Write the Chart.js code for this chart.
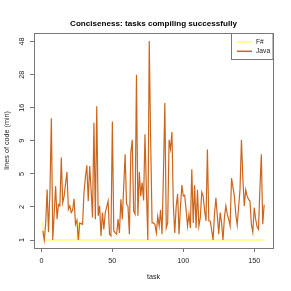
<!DOCTYPE html>
<html><head><meta charset="utf-8">
<script src="https://cdn.jsdelivr.net/npm/chart.js@4.4.0/dist/chart.umd.min.js"></script>
<style>html,body{margin:0;padding:0;background:#fff;}canvas{display:block}</style>
</head><body>
<canvas id="c" width="291" height="291"></canvas>
<script>
const chartTitle = "Conciseness: tasks compiling successfully";
const xTitle = "task";
const yTitle = "lines of code (min)";
const xTickValues = [0, 50, 100, 150];
const yTickLabels = [1, 2, 5, 9, 16, 28, 48];
const seriesNames = ["F#", "Java"];
const javaLoc = [
1.21,1.0,1.41,3.25,1.18,3.16,13.3,1.0,1.74,3.56,
1.55,2.15,2.06,6.7,2.25,2.7,3.8,5.18,1.9,2.06,
1.78,1.87,2.51,1.39,1.52,1.0,1.43,1.41,1.39,2.97,
4.56,5.83,2.36,5.76,3.28,1.6,12.3,1.55,16.4,1.66,
2.06,1.09,1.78,1.25,1.78,2.0,2.36,1.13,1.09,12.6,
1.21,1.16,1.13,1.55,1.16,2.47,1.55,3.47,7.1,2.15,
2.06,1.13,7.3,9.16,1.84,1.72,28,1.66,5.18,2.7,
3.94,2.4,10.1,3.16,1.0,48.5,9,1.43,1.43,1.39,
1.16,1.64,1.34,1.88,1.13,5,17.3,1.29,1.43,9.16,
7.8,10.5,2.06,1.16,2.06,2.86,1.13,2.0,3.66,2.7,
2.76,1.87,1.34,1.72,1.29,5.43,1.43,3.66,1.29,3.22,
1.34,1.6,3.02,2.7,1.87,1.49,7.7,1.49,1.49,1.23,
1.0,1.74,2.58,1.66,1.13,1.78,1.43,1.0,1.62,2.06,
1.72,1.55,1.34,4.44,3.47,2.7,1.72,1.37,2.0,3.28,
9.16,4.32,2.06,3.22,2.7,2.47,2.36,1.39,1.18,1.97,
1.55,1.32,1.25,3.28,7.1,1.39,2.13];
const fsharpLoc = [
1.45,1,1,1,1,1,1,1,1,1,
1,1,1,1,1,1,1,1,1,1,
1,1,1,1,1,1.45,1,1,1,1,
1,1,1,1,1,1,1,1,1,1,
1,1,1,1,1,1,1,1,1,1,
1,1,1,1,1,1,1,1,1,1,
1,1,1,1,1,1,1,1,1,1,
1,1,1,1,1,1,1,1,1,1,
1,1,1,1,1,1,1,1,1,1,
1,1,1,1,1,1,1,1,1,1,
1,1,1,1,1,1,1,1,1,1,
1,1,1,1,1,1,1,1,1,1,
1,1,1,1,1,1,1,1,1,1,
1,1,1,1,1,1,1,1,1,1,
1,1,1,1,1,1,1,1,1,1,
1,1,1,1,1,1,1];

// axis transform: evenly spaced tick labels, log-interpolated between them
function toPos(v){
  const L = yTickLabels;
  let k = 0;
  while (k < L.length - 2 && v > L[k+1]) k++;
  return k + Math.log(v / L[k]) / Math.log(L[k+1] / L[k]);
}
const tasks = javaLoc.map((_, i) => i + 1);
const allPos = javaLoc.concat(fsharpLoc).map(toPos);
const yMinP = Math.min(...allPos), yMaxP = Math.max(...allPos);
const yPad = 0.04 * (yMaxP - yMinP);
const xPad = 0.04 * (tasks[tasks.length-1] - tasks[0]);
const FONT = "'Liberation Sans', Arial, sans-serif";
const FRAME = '#777';

const boxPlugin = {
  id: 'rbox',
  afterDraw(chart){
    const {ctx, chartArea: a} = chart;
    ctx.save();
    ctx.strokeStyle = FRAME; ctx.lineWidth = 1;
    ctx.strokeRect(Math.round(a.left)+0.5, Math.round(a.top)+0.5, Math.round(a.right-a.left), Math.round(a.bottom-a.top));
    // title
    ctx.fillStyle = '#000';
    ctx.font = "bold 8.1px " + FONT;
    ctx.textAlign = 'center'; ctx.textBaseline = 'middle';
    ctx.fillText(chartTitle, (a.left + a.right)/2, 24);
    // legend
    const lx = 231.5, ly = 33.5, lw = a.right - 231.5, lh = 26;
    ctx.fillStyle = '#fff';
    ctx.fillRect(lx, ly, lw, lh);
    ctx.strokeStyle = FRAME;
    ctx.strokeRect(lx, ly, lw, lh);
    ctx.font = "6.7px " + FONT;
    ctx.textAlign = 'left';
    chart.data.datasets.forEach((ds, i) => {
      const yy = 42 + i * 9.3;
      ctx.strokeStyle = ds.borderColor; ctx.lineWidth = 1.5;
      ctx.beginPath(); ctx.moveTo(237, yy); ctx.lineTo(252, yy); ctx.stroke();
      ctx.fillStyle = '#222';
      ctx.fillText(ds.label, 256, yy);
    });
    ctx.restore();
  }
};

new Chart(document.getElementById('c'), {
  type: 'line',
  data: {
    datasets: [
      { label: seriesNames[0], data: tasks.map((t, i) => ({x: t, y: toPos(fsharpLoc[i])})),
        borderColor: '#ffff70', borderWidth: 1.5, pointRadius: 0, order: 1 },
      { label: seriesNames[1], data: tasks.map((t, i) => ({x: t, y: toPos(javaLoc[i])})),
        borderColor: '#cd661d', borderWidth: 1.2, pointRadius: 0, order: 0 }
    ]
  },
  options: {
    responsive: false, animation: false, devicePixelRatio: 1,
    layout: { padding: { top: 33, right: 18, left: 0, bottom: 0 } },
    plugins: { legend: { display: false }, tooltip: { enabled: false }, title: { display: false } },
    elements: { line: { tension: 0 } },
    scales: {
      x: {
        type: 'linear',
        min: tasks[0] - xPad, max: tasks[tasks.length-1] + xPad,
        afterBuildTicks: s => { s.ticks = xTickValues.map(v => ({value: v})); },
        afterFit: s => { s.height = 43; },
        grid: { drawOnChartArea: false, drawTicks: true, tickLength: 4, color: FRAME },
        border: { display: false },
        ticks: { autoSkip: false, maxRotation: 0, padding: 5, color: '#222', font: { family: FONT, size: 7.2 } },
        title: { display: true, text: xTitle, color: '#222', font: { family: FONT, size: 7.2 }, padding: { top: 0, bottom: 9.7 } }
      },
      y: {
        type: 'linear',
        min: yMinP - yPad, max: yMaxP + yPad,
        afterBuildTicks: s => { s.ticks = yTickLabels.map((v, i) => ({value: i})); },
        afterFit: s => { s.width = 34; },
        grid: { drawOnChartArea: false, drawTicks: true, tickLength: 4, color: FRAME },
        border: { display: false },
        ticks: { autoSkip: false, minRotation: 90, maxRotation: 90, crossAlign: 'center', padding: 4,
                 color: '#222', font: { family: FONT, size: 7.2 },
                 callback: v => yTickLabels[v] },
        title: { display: true, text: yTitle, color: '#222', font: { family: FONT, size: 7.2 }, padding: { top: 2.8, bottom: 0 } }
      }
    }
  },
  plugins: [boxPlugin]
});
</script>
</body></html>
